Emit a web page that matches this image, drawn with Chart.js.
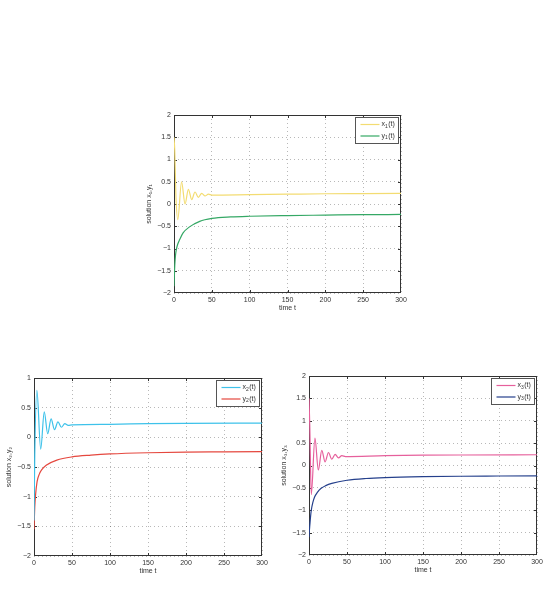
<!DOCTYPE html>
<html>
<head>
<meta charset="utf-8">
<script src="https://cdn.jsdelivr.net/npm/chart.js@4.4.1/dist/chart.umd.min.js"></script>
<style>
body { margin: 0; width: 545px; height: 597px; background: #fff; position: relative; overflow: hidden; }
canvas { position: absolute; }
</style>
</head>
<body>
<canvas id="plot1"></canvas>
<canvas id="plot2"></canvas>
<canvas id="plot3"></canvas>
<script>
// values (time t, solution value)
var t_x1 = [0, 1, 2.5, 5, 10, 14.6, 19, 23.4, 27.8, 32.2, 36.6, 41, 45.4, 50, 100, 150, 200, 250, 300];
var v_x1 = [1.5, 1.2, 0.2, -0.35, 0.5, 0.0, 0.33, 0.1, 0.27, 0.15, 0.24, 0.18, 0.22, 0.2, 0.21, 0.22, 0.23, 0.235, 0.24];
var t_y1 = [0, 0.5, 1, 2, 3, 5, 7.5, 12, 20, 34, 50, 75, 100, 150, 200, 250, 300];
var v_y1 = [-1.85, -1.6, -1.38, -1.15, -1.03, -0.9, -0.8, -0.65, -0.52, -0.39, -0.325, -0.29, -0.275, -0.26, -0.25, -0.24, -0.235];

var t_x2 = [0, 1, 3.8, 8.8, 13.5, 18, 22.5, 27, 31.5, 36, 40.5, 45, 50, 100, 150, 200, 300];
var v_x2 = [-1.4, -0.3, 0.79, -0.2, 0.43, 0.06, 0.31, 0.13, 0.26, 0.17, 0.23, 0.2, 0.21, 0.22, 0.23, 0.235, 0.24];
var t_y2 = [0, 0.5, 1, 2, 4, 7, 10, 16, 30, 50, 75, 100, 150, 200, 250, 300];
var v_y2 = [-1.55, -1.35, -1.18, -0.98, -0.75, -0.62, -0.55, -0.47, -0.385, -0.33, -0.3, -0.28, -0.26, -0.25, -0.245, -0.24];

var t_x3 = [0, 1, 3, 7.8, 12.3, 16.8, 21.2, 25.6, 30, 34.4, 38.8, 43.2, 48, 100, 150, 200, 300];
var v_x3 = [1.5, 0.9, -0.65, 0.61, -0.1, 0.34, 0.08, 0.29, 0.14, 0.25, 0.17, 0.22, 0.2, 0.22, 0.23, 0.235, 0.24];
var t_y3 = [0, 0.5, 1, 2, 3, 5, 7.5, 11, 16, 22, 30, 50, 75, 100, 150, 200, 250, 300];
var v_y3 = [-1.6, -1.45, -1.35, -1.15, -1.0, -0.83, -0.7, -0.6, -0.51, -0.45, -0.4, -0.33, -0.29, -0.27, -0.25, -0.24, -0.235, -0.23];

// tick labels
var xTicks = [0, 50, 100, 150, 200, 250, 300];
var yTicksA = [-2, -1.5, -1, -0.5, 0, 0.5, 1, 1.5, 2];
var yTicksB = [-2, -1.5, -1, -0.5, 0, 0.5, 1];

var tickFont = { family: 'Liberation Sans', size: 7 };

function pts(t, v) {
    return t.map(function (tt, i) { return { x: tt, y: v[i] }; });
}

// box around the axes with inward ticks (under the lines), legend on top
var framePlugin = {
    id: 'frame',
    beforeDatasetsDraw: function (chart) {
        var a = chart.chartArea, ctx = chart.ctx;
        var xs = chart.scales.x, ys = chart.scales.y;
        ctx.save();
        ctx.strokeStyle = '#333';
        ctx.lineWidth = 1;
        ctx.strokeRect(a.left + 0.5, a.top + 0.5, a.right - a.left - 1, a.bottom - a.top - 1);
        ctx.beginPath();
        xs.ticks.forEach(function (tk) {
            var px = Math.min(Math.round(xs.getPixelForValue(tk.value)), a.right - 1) + 0.5;
            ctx.moveTo(px, a.bottom); ctx.lineTo(px, a.bottom - 3);
            ctx.moveTo(px, a.top); ctx.lineTo(px, a.top + 3);
        });
        ys.ticks.forEach(function (tk) {
            var py = Math.min(Math.round(ys.getPixelForValue(tk.value)), a.bottom - 1) + 0.5;
            ctx.moveTo(a.left, py); ctx.lineTo(a.left + 3, py);
            ctx.moveTo(a.right, py); ctx.lineTo(a.right - 3, py);
        });
        ctx.stroke();
        ctx.restore();
    },
    afterDraw: function (chart) {
        var a = chart.chartArea, ctx = chart.ctx;
        ctx.save();
        var bx = Math.round(a.right - 46) + 0.5, by = Math.round(a.top + 2) + 0.5;
        ctx.fillStyle = '#fff';
        ctx.fillRect(bx, by, 43, 26);
        ctx.strokeStyle = '#555';
        ctx.lineWidth = 1;
        ctx.strokeRect(bx, by, 43, 26);
        chart.data.datasets.forEach(function (ds, i) {
            var ry = by + 7 + i * 11.5;
            ctx.strokeStyle = ds.borderColor;
            ctx.lineWidth = 1.2;
            ctx.beginPath();
            ctx.moveTo(bx + 5, ry); ctx.lineTo(bx + 24, ry);
            ctx.stroke();
            ctx.fillStyle = '#333';
            ctx.textBaseline = 'middle';
            ctx.font = '7px "Liberation Sans"';
            var x = bx + 26;
            ctx.fillText(ds.label.charAt(0), x, ry);
            x += ctx.measureText(ds.label.charAt(0)).width;
            ctx.font = '5px "Liberation Sans"';
            ctx.fillText(ds.label.charAt(1), x, ry + 2);
            x += ctx.measureText(ds.label.charAt(1)).width + 0.5;
            ctx.font = '7px "Liberation Sans"';
            ctx.fillText(ds.label.slice(2), x, ry);
        });
        ctx.restore();
    }
};

function makeChart(canvasId, box, series, yTicks, yTitle) {
    var cv = document.getElementById(canvasId);
    cv.width = box.r - box.l + 54;
    cv.height = box.b - box.t + 40;
    cv.style.left = (box.l - 44) + 'px';
    cv.style.top = (box.t - 10) + 'px';
    var gridStyle = { color: 'rgba(0,0,0,0.28)', lineWidth: 1, drawTicks: false };
    var ctx = cv.getContext('2d');
    return new Chart(ctx, {
        type: 'line',
        data: {
            datasets: series.map(function (s) {
                return {
                    label: s.label,
                    data: pts(s.t, s.v),
                    borderColor: s.color,
                    borderWidth: 1.2,
                    pointRadius: 0,
                    cubicInterpolationMode: 'monotone',
                    fill: false
                };
            })
        },
        options: {
            responsive: false,
            animation: false,
            layout: { padding: { left: 0, right: 10, top: 10, bottom: 0 } },
            plugins: { legend: { display: false }, tooltip: { enabled: false } },
            scales: {
                x: {
                    type: 'linear',
                    min: 0,
                    max: 300,
                    afterFit: function (s) { s.height = 30; },
                    afterBuildTicks: function (s) { s.ticks = xTicks.map(function (v) { return { value: v }; }); },
                    ticks: { font: tickFont, color: '#333', padding: 3, maxRotation: 0 },
                    grid: gridStyle,
                    border: { display: false, dash: [1, 3] },
                    title: { display: true, text: 'time t', font: tickFont, color: '#333', padding: { top: 0, bottom: 11 } }
                },
                y: {
                    min: yTicks[0],
                    max: yTicks[yTicks.length - 1],
                    afterFit: function (s) { s.width = 44; },
                    afterBuildTicks: function (s) { s.ticks = yTicks.map(function (v) { return { value: v }; }); },
                    ticks: {
                        font: tickFont, color: '#333', padding: 3,
                        callback: function (v) { return String(v).replace('-', '\u2212'); }
                    },
                    grid: gridStyle,
                    border: { display: false, dash: [1, 3] },
                    title: { display: true, text: yTitle, font: tickFont, color: '#333', padding: { top: 15, bottom: 0 } }
                }
            }
        },
        plugins: [framePlugin]
    });
}

makeChart('plot1', { l: 174, t: 115, r: 401, b: 293 }, [
    { label: 'x1(t)', t: t_x1, v: v_x1, color: '#f3dc72' },
    { label: 'y1(t)', t: t_y1, v: v_y1, color: '#35a865' }
], yTicksA, 'solution x\u2081,y\u2081');

makeChart('plot2', { l: 34, t: 378, r: 262, b: 556 }, [
    { label: 'x2(t)', t: t_x2, v: v_x2, color: '#3ec2ea' },
    { label: 'y2(t)', t: t_y2, v: v_y2, color: '#e5483f' }
], yTicksB, 'solution x\u2082,y\u2082');

makeChart('plot3', { l: 309, t: 376, r: 537, b: 555 }, [
    { label: 'x3(t)', t: t_x3, v: v_x3, color: '#e6609c' },
    { label: 'y3(t)', t: t_y3, v: v_y3, color: '#25408c' }
], yTicksA, 'solution x\u2083,y\u2083');
</script>
</body>
</html>
